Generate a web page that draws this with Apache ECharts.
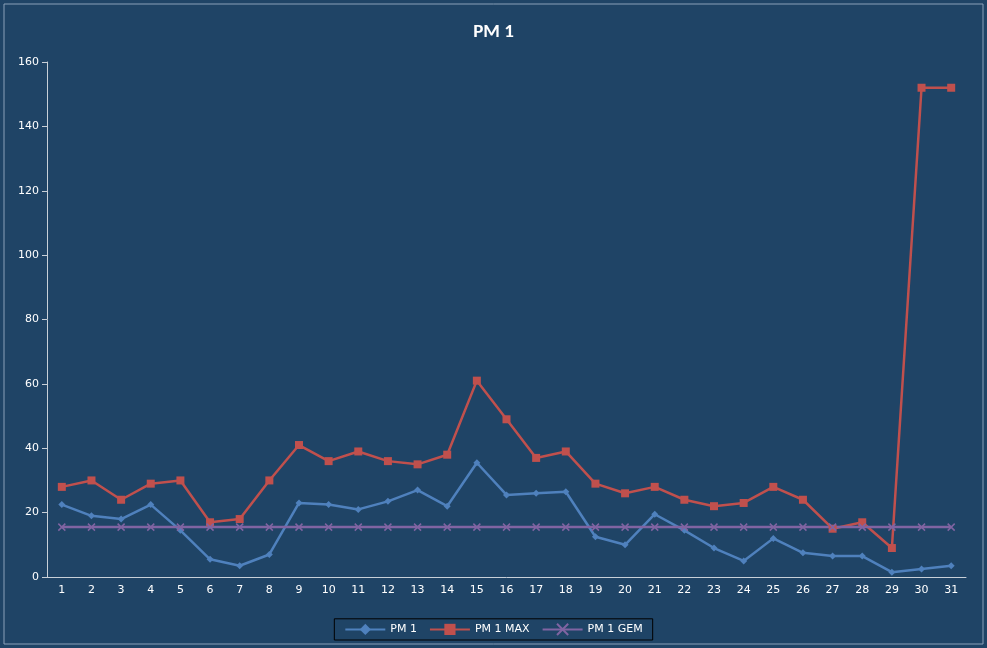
<!DOCTYPE html>
<html><head><meta charset="utf-8">
<script src="https://cdn.jsdelivr.net/npm/echarts@6/dist/echarts.min.js"></script>
<style>html,body{margin:0;padding:0;background:#fff}#c{width:987px;height:648px}</style>
</head><body><div id="c"></div>
<script>
const categories = Array.from({length:31},(_,i)=>String(i+1));
const pm1 = [22.5,19,18,22.5,14.5,5.5,3.5,7,23,22.5,21,23.5,27,22,35.5,25.5,26,26.5,12.5,10,19.5,14.5,9,5,12,7.5,6.5,6.5,1.5,2.5,3.5];
const pm1Max = [28,30,24,29,30,17,18,30,41,36,39,36,35,38,61,49,37,39,29,26,28,24,22,23,28,24,15,17,9,152,152];
const pm1Gem = categories.map(()=>15.5);
const chart = echarts.init(document.getElementById('c'));
const lbl = {color:'#fff',fontSize:11,fontFamily:'Verdana, DejaVu Sans'};
chart.setOption({
  backgroundColor:'#1F4466',
  graphic:[{type:'rect',shape:{x:4,y:4,width:979,height:640},style:{fill:'none',stroke:'#8aa0b8',lineWidth:1}}],
  title:{text:'PM 1',left:'center',top:18,textStyle:{color:'#fff',fontSize:19,fontWeight:'bold',fontFamily:'Calibri, Carlito, DejaVu Sans'}},
  grid:{left:47,right:21,top:62,bottom:71},
  legend:{bottom:8,left:'center',itemWidth:40,itemGap:12,padding:[4,10],borderColor:'#000',borderWidth:1,backgroundColor:'#1F4466',
    textStyle:{color:'#fff',fontSize:11,fontFamily:'Verdana, DejaVu Sans'},data:['PM 1','PM 1 MAX','PM 1 GEM']},
  xAxis:{type:'category',data:categories,boundaryGap:true,
    axisLine:{lineStyle:{color:'#c8d0d8'}},axisTick:{lineStyle:{color:'#c8d0d8'}},axisLabel:lbl,splitLine:{show:false}},
  yAxis:{type:'value',min:0,max:160,interval:20,
    axisLine:{show:true,lineStyle:{color:'#c8d0d8'}},axisTick:{show:true,lineStyle:{color:'#c8d0d8'}},axisLabel:lbl,splitLine:{show:false}},
  series:[
    {name:'PM 1',type:'line',data:pm1,symbol:'diamond',symbolSize:7,itemStyle:{color:'#4F81BD'},lineStyle:{width:2.5,color:'#4F81BD'}},
    {name:'PM 1 MAX',type:'line',data:pm1Max,symbol:'rect',symbolSize:8,itemStyle:{color:'#C0504D'},lineStyle:{width:2.5,color:'#C0504D'}},
    {name:'PM 1 GEM',type:'line',data:pm1Gem,symbol:'path://M0,0L10,10M10,0L0,10',symbolSize:7,itemStyle:{color:'#8064A2',borderColor:'#8064A2',borderWidth:1.5},lineStyle:{width:2.5,color:'#8064A2'}}
  ]
});
</script></body></html>
